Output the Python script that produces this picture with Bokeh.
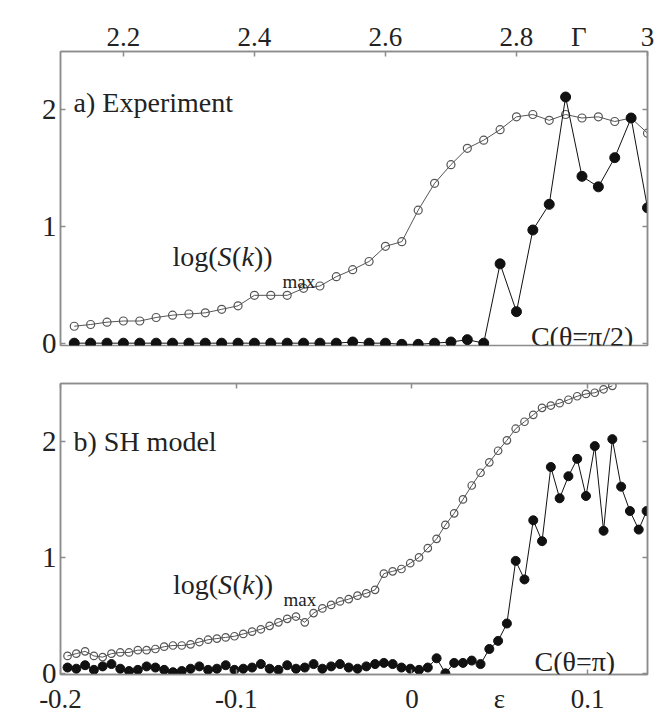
from bokeh.plotting import figure
from bokeh.models import LinearAxis, Range1d, Label, FixedTicker
from bokeh.layouts import column
from bokeh.embed import file_html
from bokeh.resources import INLINE

# ---------------- data ----------------
# panel a) experiment, x = Gamma
gamma = [2.125, 2.15, 2.175, 2.2, 2.225, 2.25, 2.275, 2.3, 2.325, 2.35,
         2.375, 2.4, 2.425, 2.45, 2.475, 2.5, 2.525, 2.55, 2.575, 2.6,
         2.625, 2.65, 2.675, 2.7, 2.725, 2.75, 2.775, 2.8, 2.825, 2.85,
         2.875, 2.9, 2.925, 2.95, 2.975, 3.0]
exp_logS = [0.145, 0.16, 0.18, 0.19, 0.19, 0.22, 0.24, 0.25, 0.26, 0.29,
            0.32, 0.41, 0.41, 0.41, 0.47, 0.49, 0.57, 0.63, 0.70, 0.83,
            0.87, 1.14, 1.37, 1.53, 1.67, 1.74, 1.83, 1.94, 1.96, 1.91,
            1.96, 1.93, 1.94, 1.90, 1.93, 1.80]
exp_C = [0, 0, 0, 0, 0, 0, 0, 0, 0, 0,
         0, 0, 0, 0, 0, 0, 0, 0.01, 0, 0,
         -0.01, -0.01, 0, 0.01, 0.03, 0,
         0.68, 0.27, 0.97, 1.19, 2.11, 1.43, 1.34, 1.59, 1.93, 1.16]

# panel b) SH model, x = epsilon
eps = [-0.196, -0.191, -0.186, -0.181, -0.176, -0.171, -0.166, -0.161, -0.156, -0.151,
       -0.146, -0.141, -0.136, -0.131, -0.126, -0.121, -0.116, -0.111, -0.106, -0.101,
       -0.096, -0.091, -0.086, -0.081, -0.076, -0.071, -0.066, -0.061, -0.056, -0.051,
       -0.046, -0.041, -0.036, -0.031, -0.026, -0.021, -0.016, -0.011, -0.006, -0.001,
       0.004, 0.009, 0.014, 0.019, 0.024, 0.029, 0.034, 0.039, 0.044, 0.049,
       0.054, 0.059, 0.064, 0.069, 0.074, 0.079, 0.084, 0.089, 0.094, 0.099,
       0.104, 0.109, 0.114, 0.119, 0.124, 0.129, 0.1335]
sh_logS = [0.15, 0.17, 0.19, 0.15, 0.14, 0.17, 0.18, 0.18, 0.20, 0.20,
           0.21, 0.23, 0.24, 0.24, 0.25, 0.27, 0.29, 0.30, 0.31, 0.32,
           0.34, 0.36, 0.38, 0.41, 0.44, 0.47, 0.49, 0.44, 0.52, 0.56,
           0.59, 0.62, 0.64, 0.67, 0.69, 0.72, 0.86, 0.88, 0.90, 0.95,
           1.00, 1.08, 1.16, 1.28, 1.38, 1.50, 1.62, 1.73, 1.82, 1.92,
           2.01, 2.11, 2.17, 2.23, 2.29, 2.31, 2.33, 2.36, 2.39, 2.41,
           2.42, 2.45, 2.48]
sh_C = [0.05, 0.04, 0.07, 0.03, 0.06, 0.08, 0.04, 0.02, 0.03, 0.06,
        0.05, 0.03, 0.01, 0.02, 0.04, 0.06, 0.03, 0.04, 0.07, 0.03,
        0.04, 0.05, 0.08, 0.04, 0.03, 0.07, 0.04, 0.05, 0.08, 0.04,
        0.06, 0.08, 0.05, 0.04, 0.06, 0.08, 0.09, 0.08, 0.05, 0.04,
        0.03, 0.05, 0.13, 0.0, 0.09, 0.09, 0.11, 0.08, 0.21, 0.28,
        0.43, 0.97, 0.81, 1.32, 1.14, 1.78, 1.51, 1.70, 1.85, 1.53,
        1.96, 1.23, 2.02, 1.61, 1.40, 1.24, 1.40]

# tick positions / labels (the axis names sit among the tick labels)
gamma_ticks = [2.2, 2.4, 2.6, 2.8, 3.0]
gamma_labels = ["2.2", "2.4", "2.6", "2.8", "3"]
gamma_name_pos, gamma_name = 2.895, "\u0393"
eps_ticks = [-0.2, -0.1, 0.0, 0.1]
eps_labels = ["-0.2", "-0.1", "0", "0.1"]
eps_name_pos, eps_name = 0.0497, "\u03b5"
y_ticks = [0, 1, 2]
y_labels = ["0", "1", "2"]

# ---------------- style ----------------
FONT = "Liberation Serif"
AX = "#8c8c8c"
TXT = "#222222"
OPEN = "#555555"
FILLED = "#111111"


def make_fig(x_range, y_start, height, b_top, b_bottom):
    p = figure(width=657, height=height, x_range=x_range, y_range=Range1d(y_start, 2.5),
               output_backend="svg", toolbar_location=None,
               x_axis_location=None, y_axis_location=None,
               min_border_left=60, min_border_right=10,
               min_border_top=b_top, min_border_bottom=b_bottom)
    p.outline_line_color = AX
    p.outline_line_width = 1.5
    p.background_fill_color = "white"
    p.border_fill_color = "white"
    for g in p.grid:
        g.visible = False
    return p


def add_axis(p, side, label_pos, labels, tick_pos, size=26, standoff=3):
    ax = LinearAxis(ticker=FixedTicker(ticks=label_pos, minor_ticks=tick_pos),
                    major_label_overrides={t: l for t, l in zip(label_pos, labels)},
                    axis_line_color=AX, axis_line_width=1.5,
                    major_tick_in=0, major_tick_out=0,
                    minor_tick_line_color=AX, minor_tick_line_width=1.5,
                    minor_tick_in=5, minor_tick_out=0,
                    major_label_standoff=standoff,
                    major_label_text_font=FONT,
                    major_label_text_color=TXT,
                    major_label_text_font_size=f"{size}px")
    p.add_layout(ax, side)
    return ax


def label(p, x, y, text, size, style="normal", xoff=0, align="left", baseline="alphabetic"):
    p.add_layout(Label(x=x, y=y, text=text, x_offset=xoff,
                       text_font=FONT, text_font_size=f"{size}px",
                       text_font_style=style, text_color=TXT,
                       text_align=align, text_baseline=baseline))


def log_label(p, x, y, xm, ym):
    pieces = [("log(", "normal", 0), ("S", "italic", 45), ("(", "normal", 59.5),
              ("k", "italic", 69), ("))", "normal", 81.5)]
    for t, st, off in pieces:
        label(p, x, y, t, 28, st, off)
    label(p, xm, ym, "max", 19)


def draw(p, xo, yo, xf, yf, so, sf):
    p.line(xo, yo, line_color=OPEN, line_width=1)
    p.scatter(xo, yo, marker="circle", size=so, line_color=OPEN, line_width=1.2,
              fill_color="white", fill_alpha=0.0)
    p.line(xf, yf, line_color=FILLED, line_width=1)
    p.scatter(xf, yf, marker="circle", size=sf, line_color=FILLED, fill_color=FILLED)


# ---------------- panel a ----------------
pa = make_fig(Range1d(2.104, 3.0), -0.02, 361, 51, 16)
add_axis(pa, "above", gamma_ticks[:4] + [gamma_name_pos, gamma_ticks[4]],
         gamma_labels[:4] + [gamma_name, gamma_labels[4]], gamma_ticks, 27, 0)
add_axis(pa, "left", y_ticks, y_labels, y_ticks, 29, 4)
add_axis(pa, "right", [], [], y_ticks)
draw(pa, gamma, exp_logS, gamma, exp_C, 8, 10)
label(pa, 2.124, 2.06, "a) Experiment", 28)
log_label(pa, 2.275, 0.74, 2.443, 0.53)
label(pa, 2.822, 0.06, "C(\u03b8=\u03c0/2)", 28)

# ---------------- panel b ----------------
pb = make_fig(Range1d(-0.2, 0.134), -0.01, 355, 22, 38)
add_axis(pb, "below", eps_ticks[:3] + [eps_name_pos, eps_ticks[3]],
         eps_labels[:3] + [eps_name, eps_labels[3]], eps_ticks, 27, 9)
add_axis(pb, "above", [], [], eps_ticks)
add_axis(pb, "left", y_ticks, y_labels, y_ticks, 29, 4)
add_axis(pb, "right", [], [], y_ticks)
draw(pb, eps[:len(sh_logS)], sh_logS, eps, sh_C, 7.5, 9)
label(pb, -0.1926, 2.0, "b) SH model", 28)
log_label(pb, -0.136, 0.77, -0.0731, 0.64)
label(pb, 0.0697, 0.1, "C(\u03b8=\u03c0)", 28)

layout = column(pa, pb)
open("out.html", "w").write(file_html(layout, INLINE))
